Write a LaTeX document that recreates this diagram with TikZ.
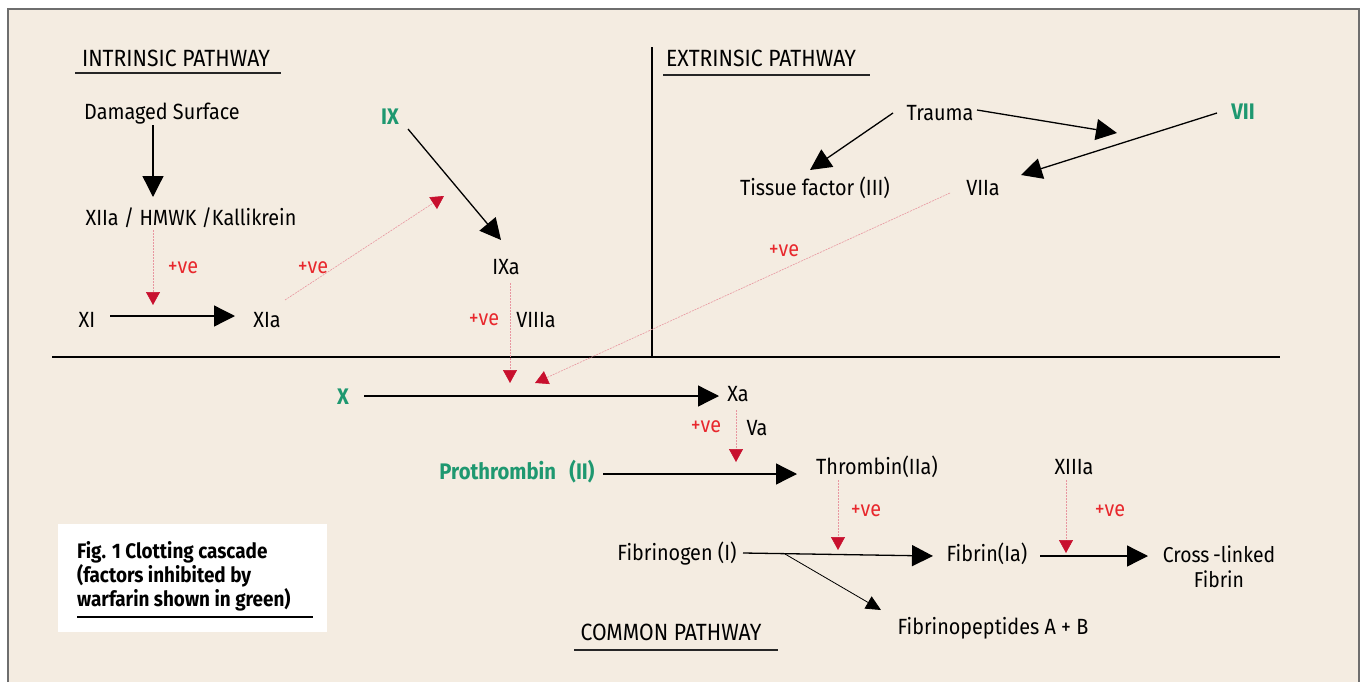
\documentclass[tikz,border=0pt]{standalone}
\usepackage{fontspec}
\setmainfont{Fira Sans}[FakeStretch=0.9]
\usetikzlibrary{arrows.meta}
\definecolor{bg}{RGB}{244,236,225}
\definecolor{grn}{RGB}{30,152,112}
\definecolor{redt}{RGB}{232,40,45}
\definecolor{redh}{RGB}{200,16,46}
\definecolor{pinkl}{RGB}{232,150,160}
\definecolor{frame}{RGB}{110,110,110}
\begin{document}
\begin{tikzpicture}[x=1pt,y=-1pt,
  lbl/.style={inner sep=0pt, text=black, font=\fontsize{22}{26}\selectfont},
  ttl/.style={inner sep=0pt, text=black, font=\fontsize{23.5}{28}\selectfont},
  gl/.style={inner sep=0pt, text=grn, font=\fontsize{22.5}{26}\selectfont\bfseries},
  pv/.style={inner sep=0pt, text=redt, font=\fontsize{22}{26}\selectfont},
  big/.style={line width=1.3pt, -{Triangle[length=21pt,width=21pt]}},
  small/.style={line width=0.8pt, -{Triangle[length=15pt,width=14pt]}},
  act/.style={pinkl, line width=0.6pt, dash pattern=on 2pt off 1pt, -{Triangle[length=13pt,width=14pt,color=redh,fill=redh]}},
  rule/.style={line width=2pt, black!85},
]
% background and frame
\fill[white] (0,0) rectangle (1361,682);
\fill[bg] (8,9) rectangle (1359,682);
\draw[frame, line width=1.5pt] (8,682) -- (8,9) -- (1359,9) -- (1359,682);

% separators
\draw[line width=2.5pt] (52,357) -- (1280,357);
\draw[line width=2pt] (652,47) -- (652,357);

% titles
\node[ttl] (intr) at (176,58) {INTRINSIC PATHWAY};
\draw[rule] (75,73) -- (281,73);
\node[ttl] (extr) at (761,58) {EXTRINSIC PATHWAY};
\draw[rule] (663,75) -- (870,75);
\node[ttl] (com) at (671,632) {COMMON PATHWAY};
\draw[rule] (574,650) -- (778,650);

% intrinsic nodes
\node[lbl] (ds) at (162,114) {Damaged Surface};
\node[lbl] (xii) at (191,218) {XIIa / HMWK /Kallikrein};
\node[lbl] (xi) at (87,320) {XI};
\node[lbl] (xia) at (267,320) {XIa};
\node[gl] (ix) at (390,117) {IX};
\node[lbl] (ixa) at (506,267) {IXa};
\node[lbl] (viiia) at (536,320) {VIIIa};
\node[pv] (pv1) at (183,268) {+ve};
\node[pv] (pv2) at (313,268) {+ve};
\node[pv] (pv3) at (484,320) {+ve};

% extrinsic nodes
\node[lbl] (trauma) at (940,113) {Trauma};
\node[lbl] (tf) at (815,188) {Tissue factor (III)};
\node[gl] (vii) at (1243,112) {VII};
\node[lbl] (viia) at (983,188) {VIIa};
\node[pv] (pv4) at (784,251) {+ve};

% common nodes
\node[gl] (x) at (343,397) {X};
\node[lbl] (xa) at (738,394) {Xa};
\node[pv] (pv5) at (706,427) {+ve};
\node[lbl] (va) at (757,428) {Va};
\node[gl] (pro) at (517,472) {Prothrombin\hspace{0.6em}(II)};
\node[lbl] (thr) at (877,467) {Thrombin(IIa)};
\node[pv] (pv6) at (866,511) {+ve};
\node[lbl] (fgn) at (677,554) {Fibrinogen (I)};
\node[lbl] (fib) at (987,554) {Fibrin(Ia)};
\node[lbl] (fpep) at (993,628) {Fibrinopeptides A + B};
\node[lbl] (xiii) at (1074,467) {XIIIa};
\node[pv] (pv7) at (1110,511) {+ve};
\node[lbl, align=center, font=\fontsize{21.5}{25}\selectfont] (cl) at (1219,567) {Cross\,-linked\\Fibrin};

% caption
\fill[white] (58,524) rectangle (327,632);
\node[inner sep=0pt, anchor=north west, align=left, text=black,
      font=\fontsize{21}{24}\selectfont\bfseries] (cap) at (77,541)
      {Fig. 1 Clotting cascade\\(factors inhibited by\\warfarin shown in green)};
\draw[line width=1.2pt] (77,617) -- (313,617);

% intrinsic connectors
\draw[big] ([shift={(-9,11)}]ds.center) -- ([shift={(-38,-21)}]xii.center);
\draw[big] ([shift={(23,-4)}]xi.center) -- ([shift={(-32,-4)}]xia.center);
\draw[act] ([shift={(-38,12)}]xii.center) -- ([shift={(66,-15)}]xi.center);
\draw[act] ([shift={(18,-20)}]xia.center) -- ([shift={(54,79)}]ix.center);
\draw[big] ([shift={(18,12)}]ix.center) -- ([shift={(-5,-27)}]ixa.center);
\draw[act] ([shift={(4,16)}]ixa.center) -- ([shift={(167,-14)}]x.center);

% extrinsic connectors
\draw[big] ([shift={(-47,0)}]trauma.center) -- ([shift={(-5,-18)}]tf.center);
\draw[big] ([shift={(37,-3)}]trauma.center) -- ([shift={(-126,21)}]vii.center);
\draw[big] ([shift={(-26,1)}]vii.center) -- ([shift={(38,-13)}]viia.center);
\draw[act] ([shift={(-33,5)}]viia.center) -- ([shift={(192,-14)}]x.center);

% common connectors
\draw[big] ([shift={(21,-1)}]x.center) -- ([shift={(-19,2)}]xa.center);
\draw[act] ([shift={(-2,16)}]xa.center) -- ([shift={(219,-10)}]pro.center);
\draw[big] ([shift={(86,2)}]pro.center) -- ([shift={(-80,7)}]thr.center);
\draw[act] ([shift={(-39,13)}]thr.center) -- ([shift={(-149,-4)}]fib.center);
\draw[big] ([shift={(66,-1)}]fgn.center) -- ([shift={(-54,2)}]fib.center);
\draw[small] ([shift={(108,0)}]fgn.center) -- ([shift={(-112,-18)}]fpep.center);
\draw[act] ([shift={(-8,13)}]xiii.center) -- ([shift={(79,-1)}]fib.center);
\draw[big] ([shift={(53,2)}]fib.center) -- ([shift={(-71,-11)}]cl.center);
\end{tikzpicture}
\end{document}
